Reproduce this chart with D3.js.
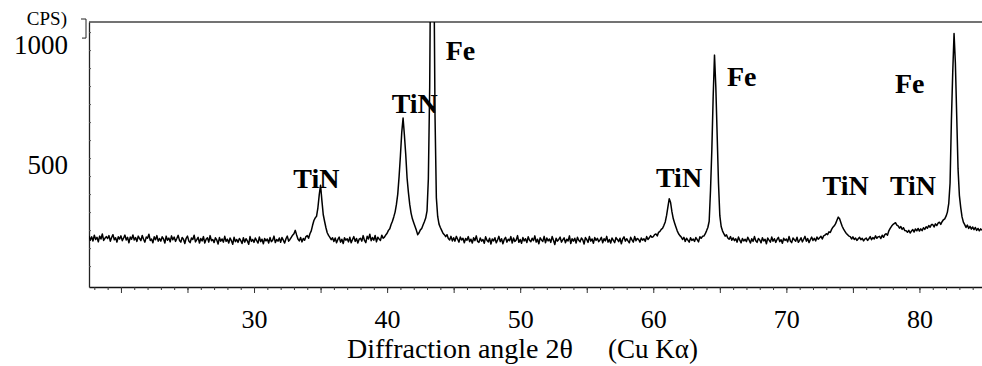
<!DOCTYPE html>
<html><head><meta charset="utf-8">
<script src="https://cdn.jsdelivr.net/npm/d3@7"></script>
<style>html,body{margin:0;padding:0;background:#fff;} svg{display:block;}</style>
</head><body>
<script>
// ---- data ----
const angleStart = 17.6;   // first sample, degrees 2θ
const angleStep = 0.1;     // sample spacing, degrees
const cps = [
/*17.6*/ 201,183,197,180,
/*18*/ 204,186,195,176,200,188,209,182,191,198,
/*19*/ 190,202,179,194,206,185,193,175,197,188,
/*20*/ 201,181,192,204,184,195,172,196,187,205,
/*21*/ 184,194,178,200,190,181,203,187,175,196,
/*22*/ 191,208,182,188,172,197,185,202,179,190,
/*23*/ 179,197,188,171,200,183,192,176,201,185,
/*24*/ 196,178,190,203,182,175,194,187,169,191,
/*25*/ 200,180,173,192,186,204,176,185,195,171,
/*26*/ 190,180,198,171,187,193,175,202,181,186,
/*27*/ 173,193,184,167,194,179,188,175,199,178,
/*28*/ 187,171,192,181,166,195,177,186,174,190,
/*29*/ 182,169,193,175,189,180,166,198,178,186,
/*30*/ 174,192,181,171,196,177,187,168,190,180,
/*31*/ 188,171,194,177,183,200,173,186,179,192,
/*32*/ 174,194,183,171,189,200,179,186,195,204,
/*33*/ 210,224,205,188,180,194,176,190,183,198,
/*34*/ 202,191,210,222,245,265,276,283,318,372,
/*35*/ 412,348,290,262,236,214,203,195,185,193,
/*36*/ 178,192,172,186,196,175,187,169,193,183,
/*37*/ 189,176,195,172,186,198,178,190,171,187,
/*38*/ 191,179,202,182,173,199,188,208,181,194,
/*39*/ 183,203,176,195,188,182,204,191,196,205,
/*40*/ 212,224,231,248,262,280,300,332,375,448,
/*41*/ 535,632,692,620,540,442,382,332,296,272,
/*42*/ 256,240,224,206,214,226,232,246,260,275,
/*43*/ 305,440,820,1600,2000,1450,700,360,282,250,
/*44*/ 236,224,212,206,198,206,190,184,199,180,
/*45*/ 193,179,199,187,175,196,184,191,172,190,
/*46*/ 183,198,177,187,171,193,181,201,178,174,
/*47*/ 192,179,186,170,197,183,176,191,167,188,
/*48*/ 180,193,172,184,199,177,189,168,186,195,
/*49*/ 175,187,181,198,171,192,178,184,202,174,
/*50*/ 186,170,194,180,189,173,197,183,177,191,
/*51*/ 181,201,175,187,168,193,184,178,199,172,
/*52*/ 192,180,188,174,198,183,165,191,179,186,
/*53*/ 196,175,184,193,172,187,180,201,169,189,
/*54*/ 179,191,171,195,183,176,192,185,167,194,
/*55*/ 186,174,198,179,188,170,194,182,191,177,
/*56*/ 184,195,172,189,180,199,175,186,171,192,
/*57*/ 182,173,194,186,177,191,168,188,197,179,
/*58*/ 189,180,172,195,184,175,198,181,190,186,
/*59*/ 175,192,183,189,178,198,186,193,202,195,
/*60*/ 198,206,209,201,216,220,228,233,245,259,
/*61*/ 286,322,356,340,302,273,255,238,222,210,
/*62*/ 202,196,186,195,178,191,183,175,193,182,
/*63*/ 188,178,194,185,176,197,191,199,200,209,
/*64*/ 222,236,262,390,560,780,954,820,620,420,
/*65*/ 285,240,222,210,200,205,192,187,198,183,
/*66*/ 193,181,189,175,196,183,172,190,180,187,
/*67*/ 177,195,184,171,189,178,198,181,174,190,
/*68*/ 184,172,193,180,187,168,192,183,175,196,
/*69*/ 179,189,174,186,195,177,185,170,191,182,
/*70*/ 188,176,198,180,173,192,185,179,195,174,
/*71*/ 182,193,176,187,199,179,190,173,185,196,
/*72*/ 182,191,180,196,187,193,199,188,201,204,
/*73*/ 210,206,218,215,228,237,243,252,266,279,
/*74*/ 272,256,240,229,220,211,206,200,198,188,
/*75*/ 197,186,192,182,189,195,185,191,180,188,
/*76*/ 192,182,189,198,185,194,188,201,191,197,
/*77*/ 199,190,204,195,206,210,204,222,232,241,
/*78*/ 248,252,256,246,243,233,240,228,235,223,
/*79*/ 222,216,224,213,221,227,217,230,222,232,
/*80*/ 221,230,223,235,228,239,233,244,237,248,
/*81*/ 248,238,251,244,254,258,249,260,268,272,
/*82*/ 283,300,335,420,680,880,1044,920,700,480,
/*83*/ 370,320,280,258,248,236,246,232,241,229,
/*84*/ 238,227,236,224,232,222,230,224
];
const xTickLabels = [30, 40, 50, 60, 70, 80];
const yTickLabels = [500, 1000];
const peakNames  = ["TiN", "TiN", "Fe", "TiN", "Fe", "TiN", "TiN", "Fe"];
const labelAngle = [32.95, 40.34, 44.40, 60.20, 65.53, 72.72, 77.78, 78.16];
const labelCps   = [399, 712, 934, 406, 825, 371, 371, 795];
const xTitle = "Diffraction angle 2θ";
const xTitleUnit = "(Cu Kα)";
const yUnit = "CPS)";

// ---- drawing ----
const W = 982, H = 366;
const font = 'Times New Roman, Liberation Serif, DejaVu Serif, serif';
const svg = d3.select("body").append("svg").attr("width", W).attr("height", H)
  .attr("font-family", font);

const x = d3.scaleLinear().domain([17.6, 84.7]).range([89, 982]);
const y = d3.scaleLinear().domain([-12, 1092]).range([287, 22]);

svg.append("clipPath").attr("id", "plotClip")
  .append("rect").attr("x", x.range()[0]).attr("y", y.range()[1])
  .attr("width", x.range()[1] - x.range()[0]).attr("height", y.range()[0] - y.range()[1]);

// top frame line
svg.append("line")
  .attr("x1", x.range()[0]).attr("x2", x.range()[1])
  .attr("y1", y.range()[1]).attr("y2", y.range()[1])
  .attr("stroke", "#444").attr("stroke-width", 1.3);

// bottom axis: minor ticks (1°) and major ticks (5°)
const gx = svg.append("g").attr("transform", `translate(0,${y.range()[0]})`);
gx.call(d3.axisBottom(x).tickValues(d3.range(18, 85, 1)).tickSize(3).tickFormat("").tickSizeOuter(0));
gx.select(".domain").attr("stroke", "#111").attr("stroke-width", 1.4);
gx.selectAll(".tick line").attr("stroke", "#333");
const gx2 = svg.append("g").attr("transform", `translate(0,${y.range()[0]})`);
gx2.call(d3.axisBottom(x).tickValues(d3.range(20, 85, 5)).tickSize(6).tickFormat("").tickSizeOuter(0));
gx2.select(".domain").remove();
gx2.selectAll(".tick line").attr("stroke", "#333");

// x tick labels
const gxl = svg.append("g").attr("transform", `translate(0,${y.range()[0]})`);
gxl.call(d3.axisBottom(x).tickValues(xTickLabels).tickSize(0).tickFormat(d3.format("d")));
gxl.attr("font-family", font).attr("font-size", 26);
gxl.select(".domain").remove();
gxl.selectAll(".tick text").attr("y", 41).attr("dy", 0).attr("fill", "#000");

// left axis
const gy = svg.append("g").attr("transform", `translate(${x.range()[0]},0)`);
gy.call(d3.axisLeft(y).tickValues(yTickLabels).tickSize(0).tickPadding(21)
  .tickFormat(d3.format("d")).tickSizeOuter(0));
gy.attr("font-family", font).attr("font-size", 27);
gy.select(".domain").attr("stroke", "#222").attr("stroke-width", 1.3);
gy.selectAll(".tick text").attr("dy", "0.36em").attr("fill", "#000");
const gyMinor = svg.append("g").attr("transform", `translate(${x.range()[0]},0)`);
gyMinor.call(d3.axisRight(y).tickValues(d3.range(75, 1090, 75)).tickSize(2).tickFormat("").tickSizeOuter(0));
gyMinor.select(".domain").remove();
gyMinor.selectAll(".tick line").attr("stroke", "#555");

// small bracket mark at the top of the y axis
svg.append("path")
  .attr("d", `M${x.range()[0] - 8},${y.range()[1] - 3}h5v${y(1000) - y.range()[1] - 3}h-4`)
  .attr("fill", "none").attr("stroke", "#222").attr("stroke-width", 1);

// unit label
svg.append("text").attr("x", 67).attr("y", 25).attr("text-anchor", "end")
  .attr("font-size", 19).text(yUnit);

// diffraction trace
const line = d3.line()
  .x((d, i) => x(angleStart + i * angleStep))
  .y(d => y(d));
svg.append("path").datum(cps)
  .attr("clip-path", "url(#plotClip)")
  .attr("d", line)
  .attr("fill", "none").attr("stroke", "#000").attr("stroke-width", 1.5)
  .attr("stroke-linejoin", "round");

// peak labels
svg.append("g").selectAll("text").data(peakNames).join("text")
  .attr("x", (d, i) => x(labelAngle[i]))
  .attr("y", (d, i) => y(labelCps[i]))
  .attr("font-weight", "bold").attr("font-size", 28)
  .attr("fill", "#000")
  .text(d => d);

// x axis title
svg.append("text").attr("x", 347).attr("y", 358)
  .attr("font-size", 28).text(xTitle);
svg.append("text").attr("x", 608).attr("y", 358)
  .attr("font-size", 27).text(xTitleUnit);
</script>
</body></html>
